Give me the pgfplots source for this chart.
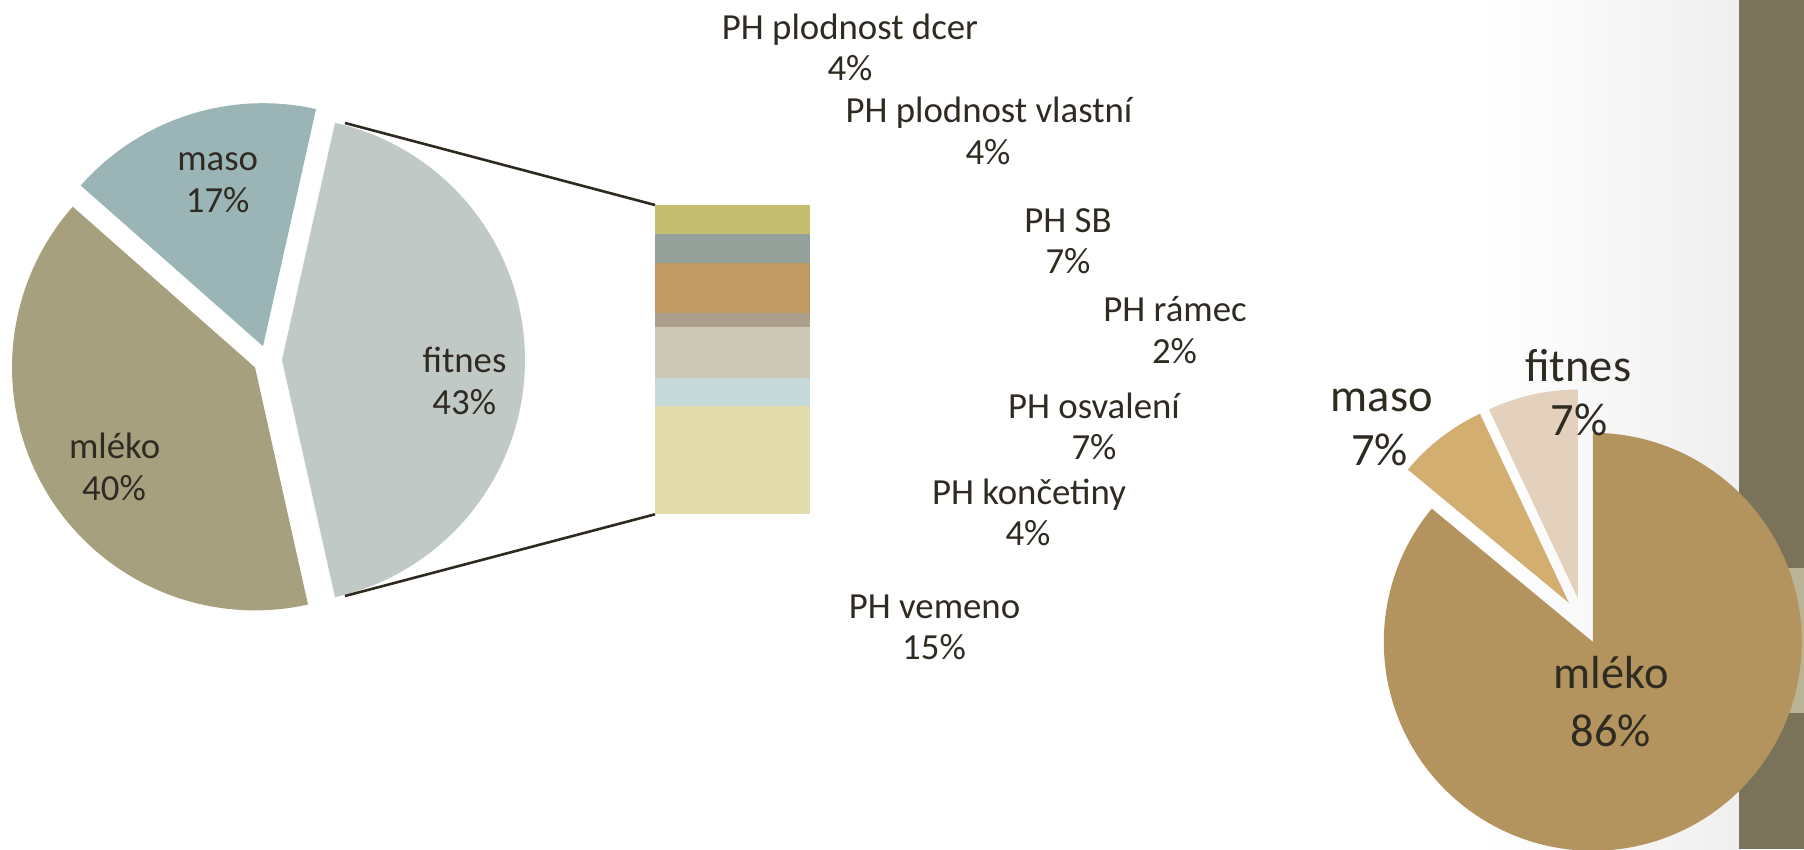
\documentclass[border=0pt]{standalone}
\usepackage{fontspec}
\setmainfont{Carlito}
\usepackage{pgfplots}
\pgfplotsset{compat=1.18}

\definecolor{txt}{HTML}{2F2B22}
\definecolor{lineC}{HTML}{2E2A1F}
% left pie
\definecolor{lMaso}{HTML}{9BB5B7}
\definecolor{lMleko}{HTML}{A6A07F}
\definecolor{lFit}{HTML}{C0C9C5}
% fitness breakdown
\definecolor{bDcer}{HTML}{C5BE70}
\definecolor{bVlastni}{HTML}{94A09A}
\definecolor{bSB}{HTML}{BF9A62}
\definecolor{bRamec}{HTML}{AB9E8B}
\definecolor{bOsval}{HTML}{CCC9B6}
\definecolor{bKonc}{HTML}{C5D9D8}
\definecolor{bVemeno}{HTML}{E3DDAD}
% right pie
\definecolor{rMleko}{HTML}{B4945E}
\definecolor{rMaso}{HTML}{D2AE70}
\definecolor{rFit}{HTML}{E3D1BD}
% slide decoration
\definecolor{band}{HTML}{7A7259}
\definecolor{bandLight}{HTML}{B9B496}
\definecolor{bgR}{HTML}{EFEFEF}

\newcommand\lbl{\fontsize{9.2}{10.3}\selectfont}
\newcommand\blbl{\fontsize{11.6}{13.5}\selectfont}

% #1 colour, #2 cx, #3 cy, #4 radius, #5 start angle, #6 end angle, #7 explode
\newcommand\pieslice[7]{%
  \pgfmathsetmacro\pmid{(#5+#6)/2}%
  \pgfmathsetmacro\pox{#2+#7*cos(\pmid)}%
  \pgfmathsetmacro\poy{#3+#7*sin(\pmid)}%
  \edef\pietmp{\noexpand\addplot[fill=#1,draw=none,domain=#5:#6,samples=150,forget plot]
    ({\pox+#4*cos(x)},{\poy+#4*sin(x)}) -- (axis cs:\pox,\poy) -- cycle;}%
  \pietmp}

\newcommand\lab[4]{\node[anchor=base,inner sep=0pt,text=txt,font=#1] at (axis cs:#2,#3) {#4};}

\begin{document}
\begin{tikzpicture}
% shares of the breeding goal (percent)
\def\LFit{43}\def\LMaso{17}\def\LMleko{40}
\def\RFit{7}\def\RMaso{7}\def\RMleko{86}
\pgfmathsetmacro\aA{-1.8*\LFit}
\pgfmathsetmacro\aB{\aA+3.6*\LFit}
\pgfmathsetmacro\aC{\aB+3.6*\LMaso}
\pgfmathsetmacro\aD{\aC+3.6*\LMleko}
\pgfmathsetmacro\bA{90}
\pgfmathsetmacro\bB{\bA+3.6*\RFit}
\pgfmathsetmacro\bC{\bB+3.6*\RMaso}
\pgfmathsetmacro\bD{\bC+3.6*\RMleko}

\begin{axis}[at={(0,0)}, anchor=south west, x=0.25pt, y=0.25pt,
  xmin=0, xmax=1804, ymin=0, ymax=849, enlargelimits=false,
  hide axis, clip=true, no markers]
  \fill[white] (axis cs:0,0) rectangle (axis cs:1804,849);
  \shade[left color=white, right color=bgR] (axis cs:1480,0) rectangle (axis cs:1740,849);
  \fill[band] (axis cs:1739,0) rectangle (axis cs:1804,849);
  \fill[bandLight] (axis cs:1739,136) rectangle (axis cs:1804,281);

  % left pie
  \pieslice{lFit}{267.5}{489}{243}{\aA}{\aB}{14.5}
  \pieslice{lMaso}{267.5}{489}{243}{\aB}{\aC}{14.5}
  \pieslice{lMleko}{267.5}{489}{243}{\aC}{\aD}{14.5}

  % connectors to the breakdown column
  \addplot[draw=lineC, line width=0.65pt, forget plot] coordinates {(345,726) (655,644)};
  \addplot[draw=lineC, line width=0.65pt, forget plot] coordinates {(345,253) (655,334.7)};

  % right pie
  \pieslice{rFit}{1583}{228}{209}{\bA}{\bB}{23}
  \pieslice{rMaso}{1583}{228}{209}{\bB}{\bC}{23}
  \pieslice{rMleko}{1583}{228}{209}{\bC}{\bD}{23}

  % labels, left pie
  \lab{\lbl}{217.7}{678.8}{maso}
  \lab{\lbl}{217.7}{636.4}{17\%}
  \lab{\lbl}{464.5}{476.3}{fitnes}
  \lab{\lbl}{464.3}{435}{43\%}
  \lab{\lbl}{114.6}{390.2}{mléko}
  \lab{\lbl}{114}{348.9}{40\%}

  % labels, breakdown
  \lab{\lbl}{850}{809.7}{PH plodnost dcer}
  \lab{\lbl}{850}{768.6}{4\%}
  \lab{\lbl}{989}{726.2}{PH plodnost vlastní}
  \lab{\lbl}{988}{684.7}{4\%}
  \lab{\lbl}{1068}{616.9}{PH SB}
  \lab{\lbl}{1068}{575.8}{7\%}
  \lab{\lbl}{1175}{527.6}{PH rámec}
  \lab{\lbl}{1174.5}{485.2}{2\%}
  \lab{\lbl}{1094}{430.7}{PH osvalení}
  \lab{\lbl}{1094}{389.2}{7\%}
  \lab{\lbl}{1029}{344.5}{PH končetiny}
  \lab{\lbl}{1028}{303.5}{4\%}
  \lab{\lbl}{934.5}{230.7}{PH vemeno}
  \lab{\lbl}{934}{189.2}{15\%}

  % labels, right pie
  \lab{\blbl}{1578.3}{467.3}{fitnes}
  \lab{\blbl}{1579}{413.2}{7\%}
  \lab{\blbl}{1381.8}{437.5}{maso}
  \lab{\blbl}{1379.5}{383.4}{7\%}
  \lab{\blbl}{1611.3}{160.3}{mléko}
  \lab{\blbl}{1611}{103}{86\%}
\end{axis}

% breakdown of fitness traits (percent of the whole goal)
\begin{axis}[at={(163.75pt,83.675pt)}, anchor=south west,
  x=38.75pt, y=1.79826pt, xmin=0, xmax=1, ymin=0, ymax=43,
  enlargelimits=false, hide axis, clip=false,
  ybar stacked, bar width=1]
  \addplot[fill=bVemeno, draw=none] coordinates {(0.5,15)};
  \addplot[fill=bKonc, draw=none] coordinates {(0.5,4)};
  \addplot[fill=bOsval, draw=none] coordinates {(0.5,7)};
  \addplot[fill=bRamec, draw=none] coordinates {(0.5,2)};
  \addplot[fill=bSB, draw=none] coordinates {(0.5,7)};
  \addplot[fill=bVlastni, draw=none] coordinates {(0.5,4)};
  \addplot[fill=bDcer, draw=none] coordinates {(0.5,4)};
\end{axis}
\end{tikzpicture}
\end{document}
